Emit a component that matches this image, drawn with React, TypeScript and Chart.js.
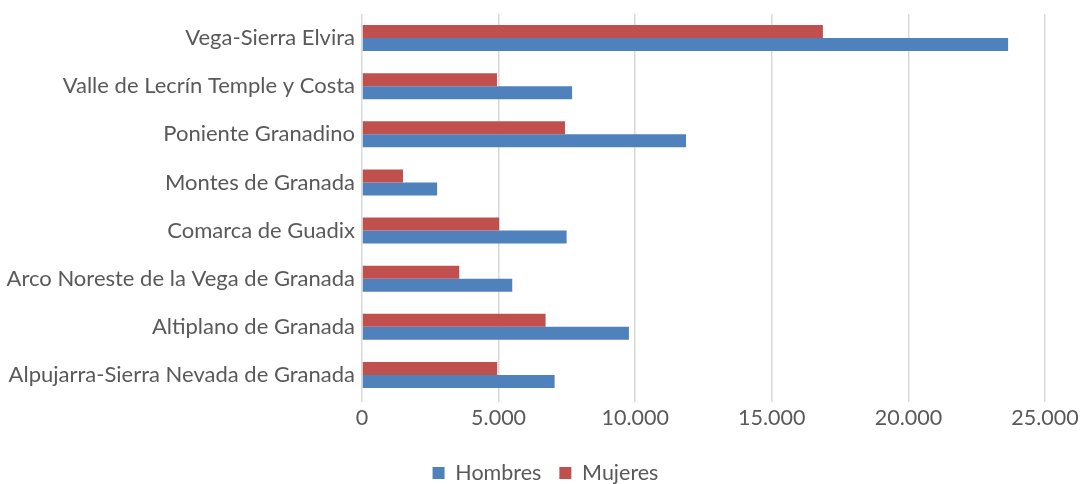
import React, { useEffect, useRef } from "react";
import { Chart, registerables } from "chart.js";

Chart.register(...registerables);

const categories = [
  "Vega-Sierra Elvira",
  "Valle de Lecrín Temple y Costa",
  "Poniente Granadino",
  "Montes de Granada",
  "Comarca de Guadix",
  "Arco Noreste de la Vega de Granada",
  "Altiplano de Granada",
  "Alpujarra-Sierra Nevada de Granada",
];
const hombres = [23650, 7690, 11860, 2750, 7490, 5500, 9770, 7050];
const mujeres = [16870, 4940, 7430, 1500, 5020, 3560, 6720, 4950];
const xMax = 25000;
const xStep = 5000;

const FONT = "Lato";

const legendShift = {
  id: "legendShift",
  afterLayout(chart: any) {
    const l = chart.legend;
    if (l) {
      l.left += 23;
      l.right += 23;
    }
  },
};

export default function App() {
  const ref = useRef<HTMLCanvasElement | null>(null);
  useEffect(() => {
    document.body.style.margin = "0";
    const ctx = ref.current!.getContext("2d")!;
    const chart = new Chart(ctx, {
      type: "bar",
      data: {
        labels: categories,
        datasets: [
          { label: "Mujeres", data: mujeres, backgroundColor: "#C0504D", categoryPercentage: 0.54, barPercentage: 1 },
          { label: "Hombres", data: hombres, backgroundColor: "#4F81BD", categoryPercentage: 0.54, barPercentage: 1 },
        ],
      },
      plugins: [legendShift],
      options: {
        indexAxis: "y",
        animation: false,
        responsive: false,
        layout: { padding: { top: 14, right: 35, left: 0, bottom: -9.75 } },
        plugins: {
          tooltip: { enabled: false },
          legend: {
            position: "bottom",
            labels: {
              sort: (a: any, b: any) => b.datasetIndex - a.datasetIndex,
              color: "#595959",
              font: { family: FONT, size: 21.5 },
              boxWidth: 12,
              boxHeight: 12,
              padding: 18,
            },
          },
        },
        scales: {
          x: {
            min: 0,
            max: xMax,
            ticks: {
              stepSize: xStep,
              color: "#595959",
              font: { family: FONT, size: 21.5 },
              padding: 3,
              callback: (v: any) => Number(v).toLocaleString("de-DE"),
            },
            grid: { color: "#d9d9d9", lineWidth: 1.5, tickLength: 3 },
            border: { display: false },
            afterFit: (s: any) => {
              s.height = 45.25;
              s.paddingLeft = 0;
              s.paddingRight = 0;
            },
          },
          y: {
            ticks: { color: "#595959", font: { family: FONT, size: 22 }, padding: 7 },
            grid: { display: false, tickLength: 0 },
            border: { display: false },
            afterFit: (s: any) => {
              s.width = 362;
              s.paddingTop = 0;
              s.paddingBottom = 0;
            },
          },
        },
      },
    });
    return () => chart.destroy();
  }, []);
  return (
    <div style={{ width: 1080, height: 484 }}>
      <canvas ref={ref} width={1080} height={484} style={{ display: "block" }} />
    </div>
  );
}
